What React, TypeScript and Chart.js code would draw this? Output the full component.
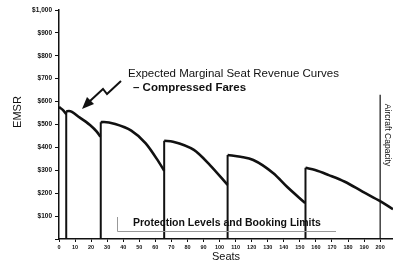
import React, { useEffect, useRef } from "react";
import { Chart, registerables } from "chart.js";

Chart.register(...registerables);

// Expected marginal seat revenue curve segments (seats, EMSR $)
const seg1Seats = [0, 2.5, 4.5];
const seg1Emsr = [576, 563, 545];
const seg2Seats = [4.5, 6.2, 13, 19.3, 23.5, 25.7];
const seg2Emsr = [557, 559, 530, 498, 469, 447];
const seg3Seats = [26, 28, 35, 45, 54, 62, 65.5];
const seg3Emsr = [510, 511, 502, 473, 418, 338, 298];
const seg4Seats = [65.5, 71, 84, 94, 105];
const seg4Emsr = [429, 425, 389, 323, 236];
const seg5Seats = [105, 113, 121, 133.5, 142, 153.3];
const seg5Emsr = [367, 359, 345, 287, 228, 157];
const seg6Seats = [153.5, 159.5, 168, 178, 189, 200.5, 208];
const seg6Emsr = [311, 301, 279, 250, 207, 163, 130];

// Protection levels / booking limits (vertical lines): seat and top value
const limitSeats = [4.5, 26, 65.5, 105, 153.5];
const limitTops = [557, 510, 429, 367, 311];
const capacitySeat = 200;
const capacityTop = 630;

const xTickStep = 10;
const xMax = 208;
const yMax = 1000;
const yTickStep = 100;

const segSeats = [seg1Seats, seg2Seats, seg3Seats, seg4Seats, seg5Seats, seg6Seats];
const segEmsr = [seg1Emsr, seg2Emsr, seg3Emsr, seg4Emsr, seg5Emsr, seg6Emsr];

const FONT = "'Liberation Sans', Arial, sans-serif";
const INK = "#111";

const annotationPlugin = {
  id: "annotations",
  afterDraw(chart: any) {
    const ctx = chart.ctx as CanvasRenderingContext2D;
    ctx.save();
    ctx.fillStyle = INK;
    ctx.strokeStyle = INK;
    // EMSR y-title
    ctx.save();
    ctx.translate(18, 112);
    ctx.rotate(-Math.PI / 2);
    ctx.font = `11px ${FONT}`;
    ctx.textAlign = "center";
    ctx.textBaseline = "middle";
    ctx.fillText("EMSR", 0, 0);
    ctx.restore();

    // Heading
    ctx.textAlign = "left";
    ctx.textBaseline = "middle";
    ctx.font = `11.5px ${FONT}`;
    ctx.fillText("Expected Marginal Seat Revenue Curves", 128, 74);
    ctx.font = `bold 11.5px ${FONT}`;
    ctx.fillText("\u2013 Compressed Fares", 133, 88);

    // Zigzag arrow
    ctx.lineWidth = 2;
    ctx.lineJoin = "miter";
    ctx.beginPath();
    ctx.moveTo(121, 81);
    ctx.lineTo(107, 94);
    ctx.lineTo(103, 89);
    ctx.lineTo(90, 101);
    ctx.stroke();
    ctx.beginPath();
    ctx.moveTo(82, 109);
    ctx.lineTo(87, 97);
    ctx.lineTo(94, 104);
    ctx.closePath();
    ctx.fill();

    // Protection levels bracket and text
    ctx.strokeStyle = "#999";
    ctx.lineWidth = 1;
    ctx.beginPath();
    ctx.moveTo(117.5, 217);
    ctx.lineTo(117.5, 231.5);
    ctx.lineTo(336, 231.5);
    ctx.stroke();
    ctx.fillStyle = INK;
    ctx.font = `bold 10.5px ${FONT}`;
    ctx.fillText("Protection Levels and Booking Limits", 133, 223);

    // Aircraft Capacity (rotated clockwise)
    ctx.save();
    ctx.translate(387, 135);
    ctx.rotate(Math.PI / 2);
    ctx.font = `8.5px ${FONT}`;
    ctx.textAlign = "center";
    ctx.textBaseline = "middle";
    ctx.fillText("Aircraft Capacity", 0, 0);
    ctx.restore();
    ctx.restore();
  },
};

export default function App() {
  const ref = useRef<HTMLCanvasElement | null>(null);
  useEffect(() => {
    if (!ref.current) return;
    const datasets: any[] = [];
    segSeats.forEach((s, i) => {
      datasets.push({
        data: s.map((x, j) => ({ x, y: segEmsr[i][j] })),
        borderColor: INK,
        borderWidth: 2.6,
        pointRadius: 0,
        cubicInterpolationMode: "monotone",
        fill: false,
      });
    });
    limitSeats.forEach((x, i) => {
      datasets.push({
        data: [
          { x, y: 0 },
          { x, y: limitTops[i] },
        ],
        borderColor: INK,
        borderWidth: 2,
        pointRadius: 0,
        fill: false,
      });
    });
    datasets.push({
      data: [
        { x: capacitySeat, y: 0 },
        { x: capacitySeat, y: capacityTop },
      ],
      borderColor: INK,
      borderWidth: 1.2,
      pointRadius: 0,
      fill: false,
    });

    const chart = new Chart(ref.current, {
      type: "line",
      data: { datasets },
      plugins: [annotationPlugin],
      options: {
        animation: false,
        responsive: false,
        layout: { padding: { top: 10, right: 0, left: 0, bottom: 0 } },
        plugins: { legend: { display: false }, tooltip: { enabled: false } },
        scales: {
          x: {
            type: "linear",
            min: 0,
            max: xMax,
            afterFit: (s: any) => {
              s.height = 23;
            },
            border: { display: true, color: INK, width: 1.5 },
            grid: { drawOnChartArea: false, drawTicks: true, tickLength: 3, color: INK },
            ticks: {
              stepSize: xTickStep,
              includeBounds: false,
              maxRotation: 0,
              autoSkip: false,
              padding: 2,
              color: INK,
              font: { family: FONT, size: 5.5, weight: "bold" },
            },
            title: {
              display: true,
              text: "Seats",
              color: INK,
              font: { family: FONT, size: 11, lineHeight: 1 },
              padding: { top: 0, bottom: 0 },
            },
          },
          y: {
            type: "linear",
            min: 0,
            max: yMax,
            afterFit: (s: any) => {
              s.width = 59;
            },
            border: { display: true, color: INK, width: 1.5 },
            grid: { drawOnChartArea: false, drawTicks: true, tickLength: 4, color: INK },
            ticks: {
              stepSize: yTickStep,
              padding: 3,
              color: INK,
              font: { family: FONT, size: 6.5, weight: "bold" },
              callback: (v: any) => (v === 0 ? "" : "$" + Number(v).toLocaleString("en-US")),
            },
          },
        },
      },
    });
    return () => chart.destroy();
  }, []);
  return (
    <div style={{ position: "fixed", left: 0, top: 0, width: 393, height: 262, background: "#fff" }}>
      <canvas ref={ref} width={393} height={262} />
    </div>
  );
}
